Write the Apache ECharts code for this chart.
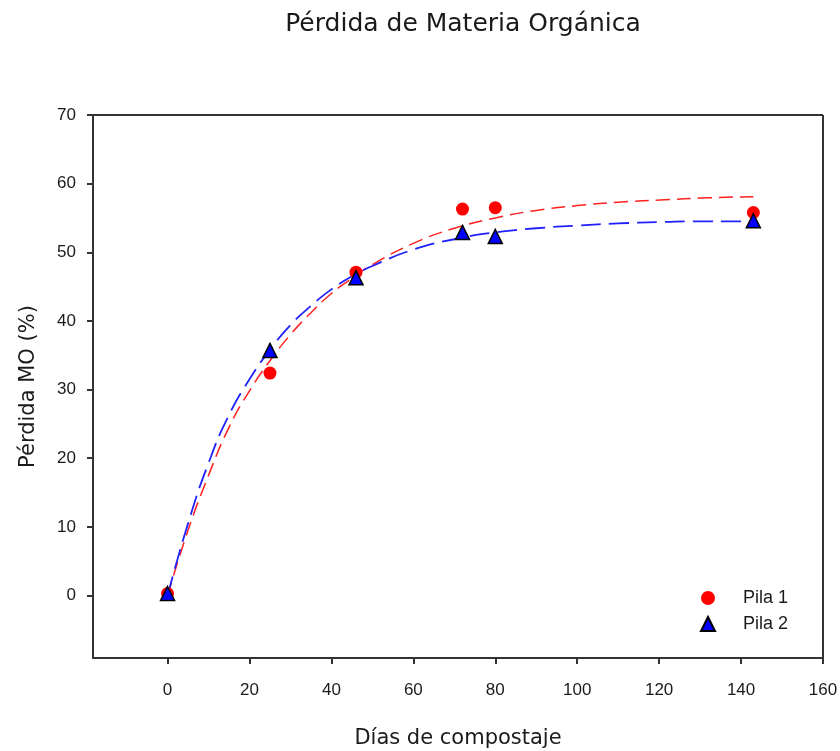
<!DOCTYPE html>
<html>
<head>
<meta charset="utf-8">
<script src="https://cdn.jsdelivr.net/npm/echarts@6/dist/echarts.min.js"></script>
<style>html,body{margin:0;padding:0;background:#fff}#c{width:840px;height:751px}</style>
</head>
<body>
<div id="c"></div>
<script>
const xTicks = [0, 20, 40, 60, 80, 100, 120, 140, 160];
const yTicks = [0, 10, 20, 30, 40, 50, 60, 70];
const dias = [0, 25, 46, 72, 80, 143];
const pila1 = [0.3, 32.4, 47.1, 56.3, 56.5, 55.8];
const pila2 = [0.3, 35.7, 46.3, 52.9, 52.3, 54.6];
const curveX = [0, 5, 10, 15, 20, 25, 30, 35, 40, 45, 50, 60, 70, 80, 90, 100, 110, 120, 130, 143];
const curve1 = [0, 9.5, 17.5, 24.5, 29.8, 34.2, 38.0, 41.2, 44.0, 46.2, 48.2, 51.3, 53.5, 55.0, 56.1, 56.8, 57.3, 57.6, 57.9, 58.1];
const curve2 = [0, 10.5, 19.3, 26.3, 31.5, 35.8, 39.4, 42.2, 44.6, 46.5, 48.0, 50.4, 51.9, 52.9, 53.5, 53.9, 54.2, 54.4, 54.5, 54.5];

const zip = (a, b) => a.map((v, i) => [v, b[i]]);
const font = 'DejaVu Sans, sans-serif';
const tickFont = 'Liberation Sans, Arial, sans-serif';
const txt = '#1a1a1a';
const axisCol = '#333';

const chart = echarts.init(document.getElementById('c'));
chart.setOption({
  animation: false,
  title: {
    text: 'Pérdida de Materia Orgánica',
    left: 458, top: 7, textAlign: 'center',
    textStyle: {fontFamily: font, fontSize: 25, fontWeight: 'normal', color: txt}
  },
  grid: {left: 93, right: 17, top: 115, bottom: 93, containLabel: false, outerBoundsMode: 'none'},
  xAxis: {
    type: 'value', min: -18.2, max: 160,
    name: 'Días de compostaje', nameLocation: 'middle', nameGap: 70,
    nameTextStyle: {fontFamily: font, fontSize: 21, color: txt},
    axisLine: {show: true, onZero: false, lineStyle: {color: axisCol, width: 2}},
    axisTick: {show: true, inside: false, length: 6, customValues: xTicks, lineStyle: {color: axisCol, width: 2}},
    axisLabel: {customValues: xTicks, fontFamily: tickFont, fontSize: 17, color: txt, margin: 24},
    splitLine: {show: false}
  },
  yAxis: {
    type: 'value', min: -9.1, max: 70,
    name: 'Pérdida MO (%)', nameLocation: 'middle', nameGap: 54, nameRotate: 90,
    nameTextStyle: {fontFamily: font, fontSize: 21, color: txt},
    axisLine: {show: true, onZero: false, lineStyle: {color: axisCol, width: 2}},
    axisTick: {show: true, inside: false, length: 6, customValues: yTicks, lineStyle: {color: axisCol, width: 2}},
    axisLabel: {customValues: yTicks, fontFamily: tickFont, fontSize: 17, color: txt, margin: 17},
    splitLine: {show: false}
  },
  legend: {
    orient: 'vertical', left: 695, top: 584, itemGap: 8, itemWidth: 14, itemHeight: 14,
    data: ['Pila 1', 'Pila 2'],
    textStyle: {fontFamily: tickFont, fontSize: 18, color: txt, padding: [0, 0, 0, 23]}
  },
  graphic: [
    {type: 'line', shape: {x1: 93, y1: 115, x2: 823, y2: 115}, style: {stroke: axisCol, lineWidth: 2}, silent: true},
    {type: 'line', shape: {x1: 823, y1: 115, x2: 823, y2: 658}, style: {stroke: axisCol, lineWidth: 2}, silent: true}
  ],
  series: [
    {type: 'line', name: 'fit1', data: zip(curveX, curve1), smooth: true, symbol: 'none',
     lineStyle: {color: '#ff2020', width: 1.5, type: [14, 7]}, z: 2},
    {type: 'line', name: 'fit2', data: zip(curveX, curve2), smooth: true, symbol: 'none',
     lineStyle: {color: '#2020ff', width: 1.8, type: [20, 8]}, z: 2},
    {type: 'scatter', name: 'Pila 1', data: zip(dias, pila1), symbol: 'circle', symbolSize: 13,
     itemStyle: {color: '#ff0000', opacity: 1}, z: 3},
    {type: 'scatter', name: 'Pila 2', data: zip(dias, pila2), symbol: 'triangle', symbolSize: 14,
     itemStyle: {color: '#0000ff', borderColor: '#000', borderWidth: 1.5, opacity: 1}, z: 4}
  ]
});
</script>
</body>
</html>
